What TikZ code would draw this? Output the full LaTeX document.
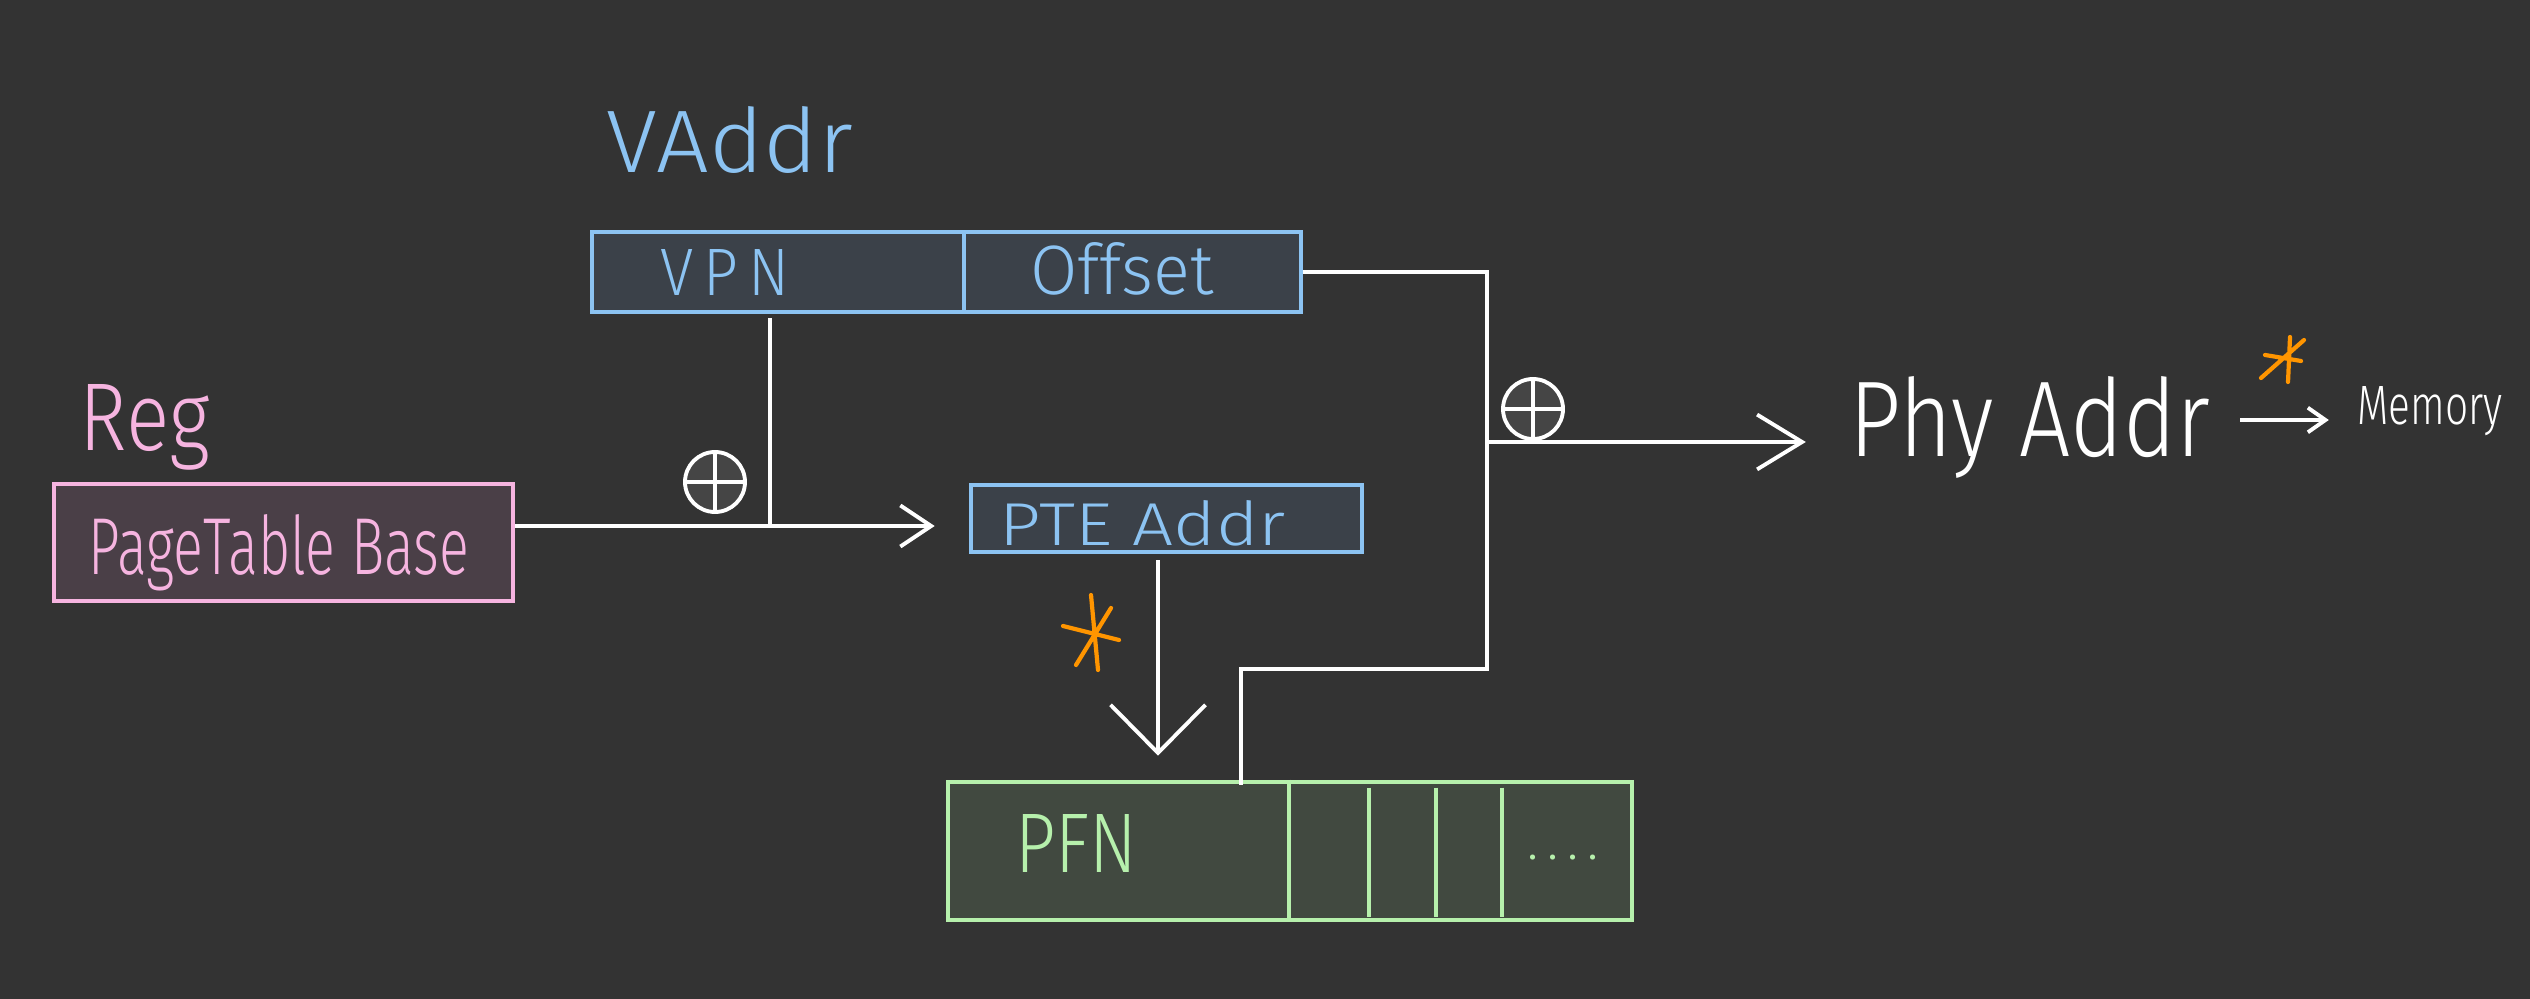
\documentclass[tikz,border=0pt]{standalone}
\usepackage{fontspec}
\setmainfont{Fira Sans Light}
\usepackage{graphicx}
\usetikzlibrary{arrows.meta}
\definecolor{bg}{HTML}{333333}
\definecolor{hblue}{HTML}{8CC3F2}
\definecolor{hpink}{HTML}{F6B4E0}
\definecolor{hgreen}{HTML}{B6F0AC}
\definecolor{horange}{HTML}{FF9500}
\definecolor{vfill}{HTML}{3B4149}
\definecolor{ptbfill}{HTML}{4A3F47}
\definecolor{pfnfill}{HTML}{414940}
\definecolor{plusfill}{HTML}{454545}
\begin{document}
\begin{tikzpicture}[x=0.1mm,y=-0.1mm,
  box/.style={draw, rectangle, line width=1.3pt, inner sep=0pt},
  lbl/.style={inner sep=0pt, anchor=base},
  wire/.style={draw=white, line width=1.1pt},
  plus/.style={circle, draw=white, line width=1.1pt, fill=plusfill, minimum size=6mm, inner sep=0pt,
    path picture={\draw[white, line width=1.1pt] (path picture bounding box.north) -- (path picture bounding box.south)
      (path picture bounding box.west) -- (path picture bounding box.east);}},
  star/.style={draw=horange, line width=1.2pt, line cap=round}
]
\fill[bg] (0,0) rectangle (2530,999);
\useasboundingbox (0,0) rectangle (2530,999);

% boxes
\node[box, draw=hpink, fill=ptbfill, minimum width=45.9mm, minimum height=11.7mm] (ptb) at (283.5,542.5) {};
\node[box, draw=hblue, fill=vfill, minimum width=37.2mm, minimum height=8mm] (vpn) at (778,272) {};
\node[box, draw=hblue, fill=vfill, minimum width=33.7mm, minimum height=8mm] (off) at (1132.5,272) {};
\node[box, draw=hblue, fill=vfill, minimum width=39.1mm, minimum height=6.7mm] (pte) at (1166.5,518.5) {};
\node[box, draw=hgreen, fill=pfnfill, minimum width=68.4mm, minimum height=13.8mm] (pfn) at (1290,851) {};

% PFN dividers
\coordinate (d1) at (1289,0);
\coordinate (d2) at (1369,0);
\coordinate (d3) at (1436,0);
\coordinate (d4) at (1502,0);
\draw[hgreen, line width=1.3pt] (pfn.north -| d1) -- (pfn.south -| d1);
\draw[hgreen, line width=1.3pt, shorten <=0.8mm, shorten >=0.5mm] (pfn.north -| d2) -- (pfn.south -| d2);
\draw[hgreen, line width=1.3pt, shorten <=0.8mm, shorten >=0.5mm] (pfn.north -| d3) -- (pfn.south -| d3);
\draw[hgreen, line width=1.3pt, shorten <=0.8mm, shorten >=0.5mm] (pfn.north -| d4) -- (pfn.south -| d4);

% labels
\node[lbl, text=hblue] (vaddr) at (730,173) {\resizebox{24.6mm}{6.6mm}{VAddr}};
\node[lbl, text=hblue] (vpntxt) at (725,296) {\resizebox{12.9mm}{4.6mm}{V\,P\,N}};
\node[lbl, text=hblue] (offtxt) at (1122,295) {\resizebox{18.3mm}{5.2mm}{Offset}};
\node[lbl, text=hpink] (reg) at (145,451) {\resizebox{13mm}{6.6mm}{Reg}};
\node[lbl, text=hpink] (ptbtxt) at (279,575) {\resizebox{38mm}{6mm}{PageTable Base}};
\node[lbl, text=hblue] (ptetxt) at (1143,546) {\resizebox{28.6mm}{4.5mm}{PTE Addr}};
\node[lbl, text=hgreen] (pfntxt) at (1076,873) {\resizebox{12.2mm}{5.8mm}{PFN}};
\node[lbl, text=hgreen] (dots) at (1563,860) {\resizebox{7.1mm}{!}{.\,.\,.\,.}};
\node[lbl, text=white] (phy) at (2030,457) {\resizebox{36.1mm}{8mm}{Phy Addr}};
\node[lbl, text=white] (mem) at (2430,425) {\resizebox{14.5mm}{3.8mm}{Memory}};

% plus signs
\node[plus] (plus1) at (715,482) {};
\node[plus] (plus2) at (1533,409) {};

% connectors
\coordinate (j1) at (770,526);
\draw[wire, shorten <=0.4mm] (vpn.south -| j1) -- (j1);
\draw[wire, -{Straight Barb[length=8.8pt,width=11.7pt]}, shorten >=3.4mm] (ptb.east |- j1) -- (pte.west |- j1);

\coordinate (j2) at (1487,442);
\coordinate (b1) at (1487,669);
\coordinate (b2) at (1241,0);
\draw[wire] (off.east) -| (b1) -| ([yshift=-0.5mm]pfn.north -| b2);
\draw[wire, -{Straight Barb[length=12.8pt,width=15.6pt]}, shorten >=4.3mm] (j2) -- (phy.west |- j2);

\coordinate (ym) at (0,420);
\draw[wire, -{Straight Barb[length=5pt,width=7pt]}, shorten <=2.9mm, shorten >=2.8mm] (phy.east |- ym) -- (mem.west |- ym);

\coordinate (a1) at (1158,0);
\draw[wire, -{Straight Barb[length=13.7pt,width=27pt]}, shorten <=0.6mm, shorten >=2.4mm] (pte.south -| a1) -- (pfn.north -| a1);

% asterisks
\draw[star] (1091,595) -- (1098,670) (1076,665) -- (1111,608) (1063,626) -- (1119,640);
\draw[star] (2290,337) -- (2288,382) (2261,378) -- (2304,340) (2265,355) -- (2301,361);
\end{tikzpicture}
\end{document}
